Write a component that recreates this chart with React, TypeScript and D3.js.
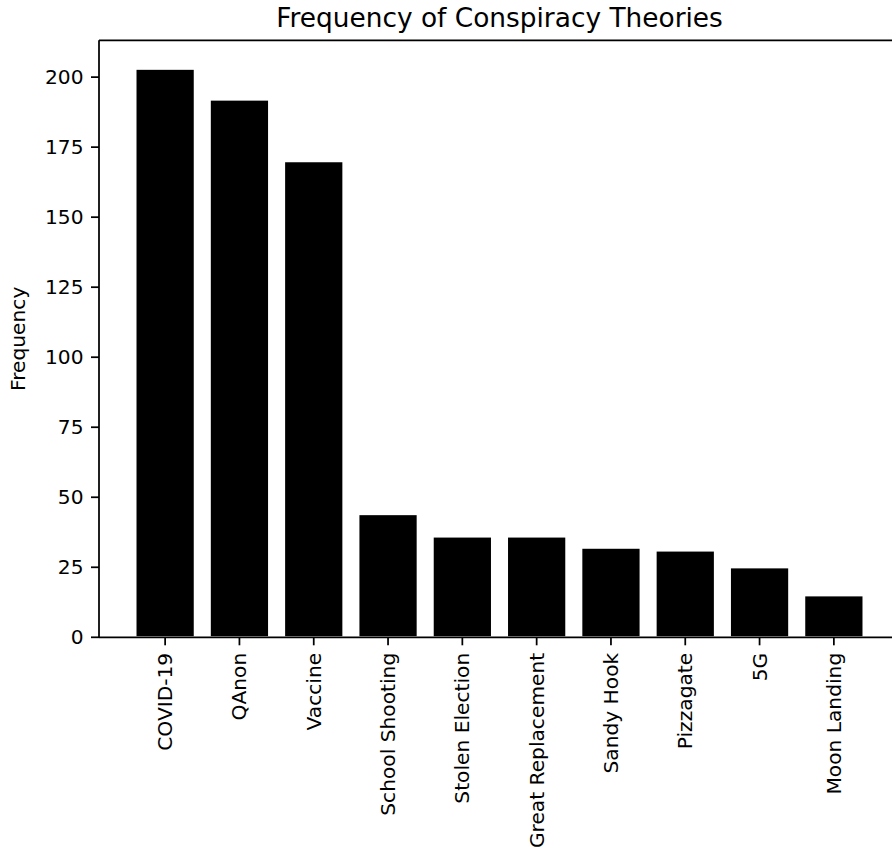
import React from "react";
import * as d3 from "d3";

const categories = ["COVID-19", "QAnon", "Vaccine", "School Shooting", "Stolen Election", "Great Replacement", "Sandy Hook", "Pizzagate", "5G", "Moon Landing"];
const frequencies = [203, 192, 170, 44, 36, 36, 32, 31, 25, 15];
const yTicks = [0, 25, 50, 75, 100, 125, 150, 175, 200];
const title = "Frequency of Conspiracy Theories";
const yLabel = "Frequency";

const W = 892, H = 852;
const left = 99, right = 900, top = 40.3, bottom = 637.3;
const barWidth = 0.8;
const font = "DejaVu Sans, sans-serif";
const tickFont = 20.2;

export default function App() {
  const n = categories.length;
  const lo = -barWidth / 2, hi = n - 1 + barWidth / 2;
  const m = (hi - lo) * 0.05;
  const x = d3.scaleLinear().domain([lo - m, hi + m]).range([left, right]);
  const yMax = (d3.max(frequencies) as number) * 1.05;
  const y = d3.scaleLinear().domain([0, yMax]).range([bottom, top]);
  const lw = 1.75;
  const tickLen = 8;
  return (
    <svg width={W} height={H} style={{ position: "absolute", left: 0, top: 0, background: "#fff" }} fontFamily={font}>
      <rect x={0} y={0} width={W} height={H} fill="#fff" />
      {frequencies.map((v, i) => (
        <rect key={i} x={x(i - barWidth / 2)} y={y(v)} width={x(barWidth) - x(0)} height={y(0) - y(v)} fill="#000" stroke="#fff" strokeWidth={2.2} />
      ))}
      <line x1={left} x2={right} y1={top} y2={top} stroke="#000" strokeWidth={lw} />
      <line x1={left} x2={right} y1={bottom} y2={bottom} stroke="#000" strokeWidth={lw} />
      <line x1={left} x2={left} y1={top} y2={bottom} stroke="#000" strokeWidth={lw} />
      <line x1={right} x2={right} y1={top} y2={bottom} stroke="#000" strokeWidth={lw} />
      {yTicks.map((t) => (
        <g key={t} transform={`translate(0,${y(t)})`}>
          <line x1={left - tickLen} x2={left} stroke="#000" strokeWidth={lw} />
          <text x={left - tickLen - 7.5} textAnchor="end" dominantBaseline="central" fontSize={tickFont} fill="#000">{t}</text>
        </g>
      ))}
      {categories.map((c, i) => (
        <g key={c} transform={`translate(${x(i)},${bottom})`}>
          <line y1={0} y2={tickLen} stroke="#000" strokeWidth={lw} />
          <text transform={`translate(0,${tickLen + 7.5}) rotate(-90)`} textAnchor="end" dominantBaseline="central" fontSize={tickFont} fill="#000">{c}</text>
        </g>
      ))}
      <text transform={`translate(${18},${(top + bottom) / 2}) rotate(-90)`} textAnchor="middle" dominantBaseline="central" fontSize={tickFont} fill="#000">{yLabel}</text>
      <text x={(left + right) / 2} y={top - 13} textAnchor="middle" fontSize={26.4} fill="#000">{title}</text>
    </svg>
  );
}
